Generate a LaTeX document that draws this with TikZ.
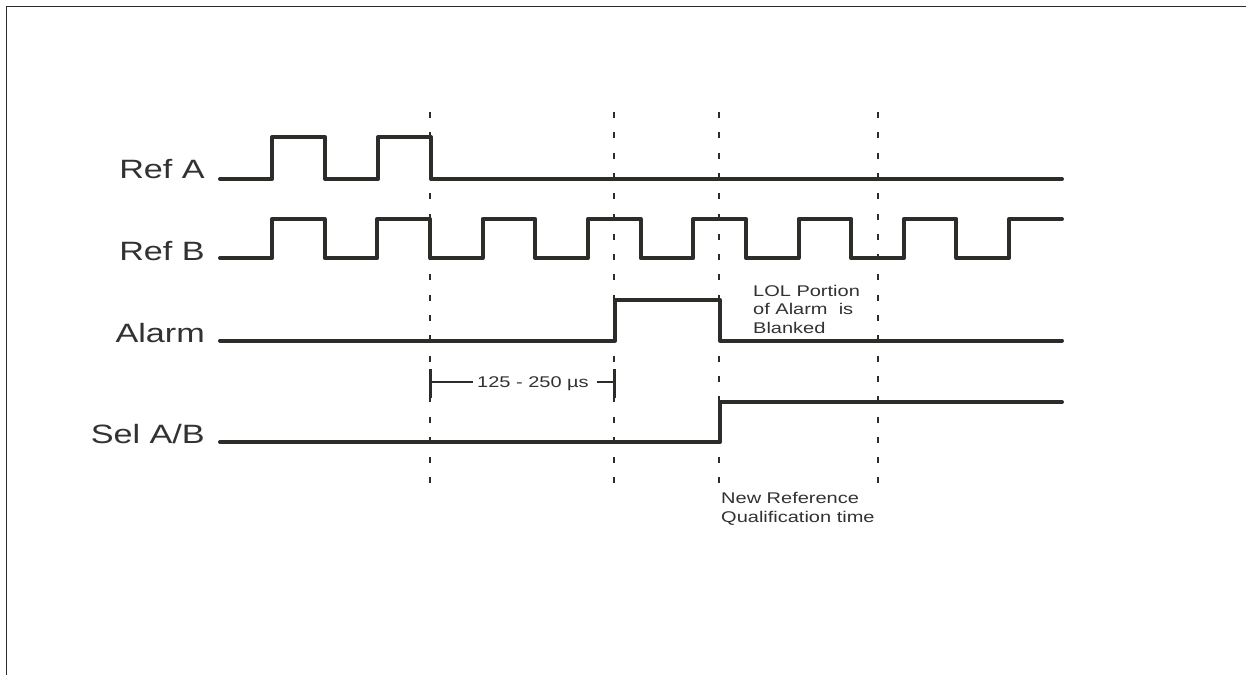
\documentclass[tikz,border=0pt]{standalone}
\usepackage{fontspec}
\setmainfont{Liberation Sans}[FakeStretch=1.29]
\definecolor{ink}{RGB}{46,44,40}
\definecolor{txt}{RGB}{50,50,50}
\begin{document}
\begin{tikzpicture}[x=1pt,y=-1pt,
  sig/.style={draw=ink,line width=4pt,line join=round,line cap=round},
  guide/.style={draw=ink,line width=2pt,dash pattern=on 6pt off 14.3pt},
  big/.style={text=txt,font=\fontsize{26.5}{30}\selectfont,inner sep=0pt,anchor=base east},
  small/.style={text=txt,font=\fontsize{15.5}{18}\selectfont,inner sep=0pt,anchor=base west},
  frame/.style={draw=ink,line width=1.5pt}]
\useasboundingbox (0,0) rectangle (1246,675);
\fill[white] (0,0) rectangle (1246,675);
% frame
\draw[frame] (1246,6.5) -- (6.5,6.5) -- (6.5,675);
% guides
\foreach \gx in {430,614,719,878}{
  \draw[guide] (\gx,112) -- (\gx,484);
}
% labels
\node[big] (la) at (205,178) {Ref A};
\node[big] (lb) at (205,260) {Ref B};
\node[big] (lal) at (205,342) {Alarm};
\node[big] (ls) at (205,443) {Sel A/B};
% Ref A
\draw[sig] (220,179) -- (272,179) -- (272,137) -- (325,137) -- (325,179) -- (378,179) -- (378,137) -- (431,137) -- (431,179) -- (1062,179);
% Ref B
\draw[sig] (220,258)
  \foreach \k in {0,...,6}{
    -- ({272+105.3*\k},258) -- ({272+105.3*\k},219) -- ({324.65+105.3*\k},219) -- ({324.65+105.3*\k},258)
  }
  -- (1009.1,258) -- (1009.1,219) -- (1062,219);
% Alarm
\draw[sig] (220,340.5) -- (615,340.5) -- (615,300) -- (720,300) -- (720,340.5) -- (1062,340.5);
% Sel A/B
\draw[sig] (220,442) -- (720,442) -- (720,402) -- (1062,402);
% dimension
\coordinate (t1) at (430,382);
\coordinate (t2) at (614,382);
\draw[ink,line width=3pt] (430,369) -- (430,398);
\draw[ink,line width=3pt] (614,369) -- (614,398);
\draw[ink,line width=1.5pt] (t1) -- ++(43,0);
\draw[ink,line width=1.5pt] (t2) -- ++(-17,0);
\node[small] (dim) at (477,387.5) {125 - 250 µs};
% notes
\node[small] (lol1) at (753,296) {LOL Portion};
\node[small] (lol2) at (753,314.5) {of Alarm \ is};
\node[small] (lol3) at (753,333) {Blanked};
\node[small] (nr1) at (721,503.5) {New Reference};
\node[small] (nr2) at (721,522) {Qualification time};
\end{tikzpicture}
\end{document}
